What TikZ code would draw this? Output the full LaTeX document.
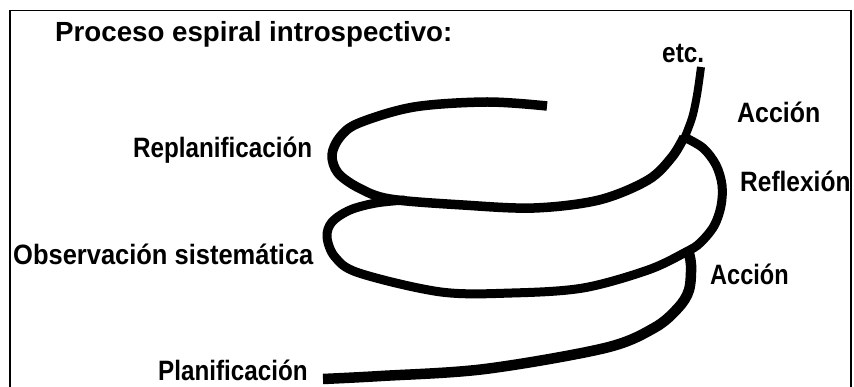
\documentclass[tikz,border=0pt]{standalone}
\usepackage{fontspec}
\setmainfont{Liberation Sans}
\usepackage{graphicx}
\tikzset{
  lbl/.style={anchor=base west, inner sep=0pt, font=\bfseries\fontsize{28}{30}\selectfont},
  ttl/.style={anchor=base west, inner sep=0pt, font=\bfseries\fontsize{27.7}{30}\selectfont},
  spiral/.style={line width=9.5pt, line join=round, black},
}
\newcommand{\cond}[2][0.87]{\scalebox{#1}[1]{#2}}
\begin{document}
\begin{tikzpicture}[x=1pt,y=-1pt]
\useasboundingbox (0,0) rectangle (854,387);
\clip (0,0) rectangle (854,387);
\fill[white] (0,0) rectangle (854,387);
\draw[line width=1.4pt] (10,400) -- (10,10.5) -- (851,10.5) -- (851,400);

% labels
\node[ttl] (title) at (55,41.7) {Proceso espiral introspectivo:};
\node[lbl] (etc) at (662,63) {\cond{etc.}};
\node[lbl] (accion1) at (737,123) {\cond[0.89]{Acción}};
\node[lbl] (replan) at (133,158) {\cond[0.865]{Replanificación}};
\node[lbl] (reflex) at (740,191.5) {\cond[0.875]{Reflexión}};
\node[lbl] (observ) at (13,265) {\cond[0.91]{Observación sistemática}};
\node[lbl] (accion2) at (710,285) {\cond[0.84]{Acción}};
\node[lbl] (planif) at (158,380) {\cond[0.865]{Planificación}};

% spiral
\draw[spiral] plot[smooth, tension=0.55] coordinates {
  (547,106) (487,102) (414,107) (359,123) (340,137) (332,155) (338,173)
  (359,188) (390,199) (463,205) (534,208) (599,200) (648,180) (672,157)
  (684,137)};
\draw[spiral, line width=8pt] plot[smooth, tension=0.55] coordinates {
  (684,139) (692,118) (697,95) (701,67)};
\draw[spiral, line width=9pt] plot[smooth, tension=0.55] coordinates {
  (684,137) (703,148) (716,165) (722,185) (721,206) (714,226) (700,243)
  (686,252) (648,270) (583,288) (512,293) (441,292) (359,273) (335,257)
  (327,237) (332,222) (350,210) (376,203) (405,200)};
\draw[spiral, line width=10.5pt] plot[smooth, tension=0.55] coordinates {
  (323,379) (381,376) (485,369) (605,348) (654,328) (678,308) (689,290)
  (691,265) (688,250)};
\end{tikzpicture}
\end{document}
